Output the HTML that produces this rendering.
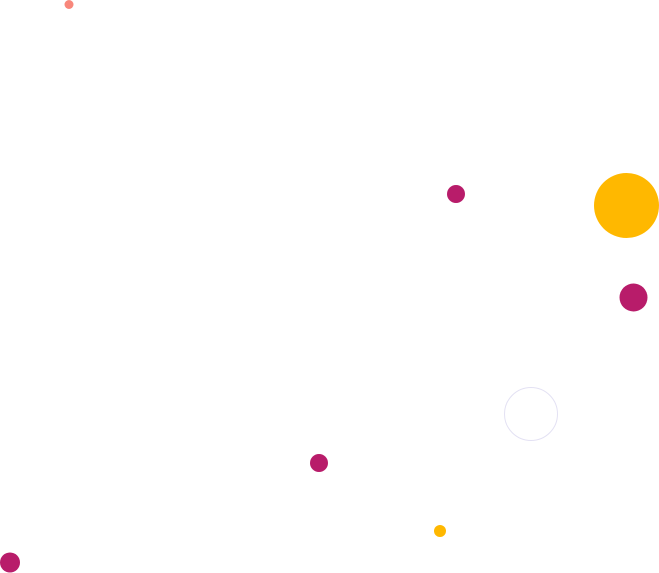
<!DOCTYPE html>
<html><head><meta charset="utf-8"><style>html,body{margin:0;padding:0;background:#fff;width:659px;height:573px;overflow:hidden}</style></head>
<body>
<svg width="659" height="573" viewBox="0 0 659 573" xmlns="http://www.w3.org/2000/svg">
<circle cx="69" cy="4.5" r="4.5" fill="#f8877b"/>
<circle cx="456" cy="194" r="9" fill="#b81c6a"/>
<circle cx="626.5" cy="205.5" r="32.5" fill="#ffb800"/>
<circle cx="633.5" cy="297.5" r="14" fill="#b81c6a"/>
<circle cx="531" cy="414" r="26.5" fill="none" stroke="#e3e1f3" stroke-width="1"/>
<circle cx="319" cy="463" r="9" fill="#b81c6a"/>
<circle cx="440" cy="531" r="6" fill="#ffb800"/>
<circle cx="10" cy="562.5" r="10" fill="#b81c6a"/>
</svg>
</body></html>
